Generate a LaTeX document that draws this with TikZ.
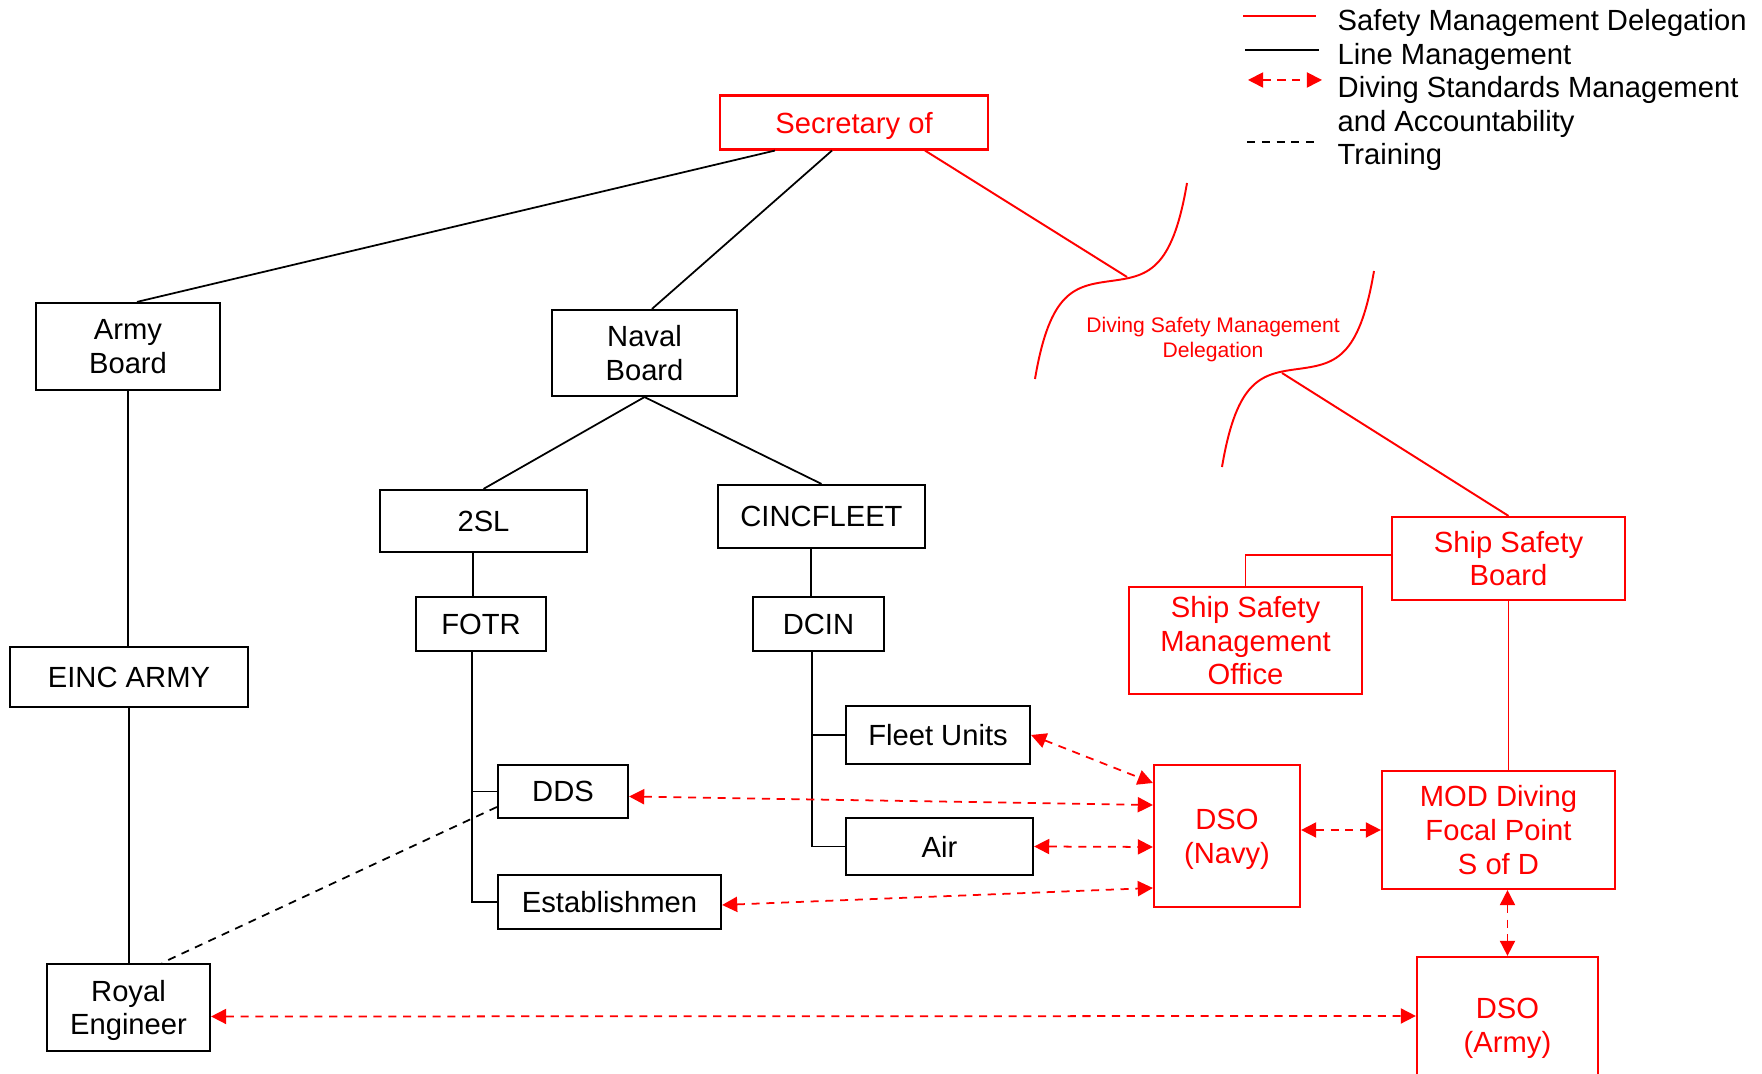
\documentclass[tikz,border=0pt]{standalone}
\usepackage{fontspec}
\setmainfont{Liberation Sans}
\usepackage{tikz}
\usetikzlibrary{arrows.meta,calc}
\tikzstyle{box}=[draw,line width=0.6pt,align=center,inner sep=0pt,text depth=0pt,font=\fontsize{8.3}{9.6}\selectfont]
\tikzstyle{redbox}=[box,draw=red,text=red]
\tikzstyle{linemgmt}=[draw,line width=0.5pt]
\tikzstyle{safety}=[draw=red,line width=0.55pt]
\tikzstyle{divestd}=[draw=red,line width=0.5pt,dash pattern=on 2.3pt off 1.9pt,{Triangle[length=4.3pt,width=4.3pt]}-{Triangle[length=4.3pt,width=4.3pt]}]
\tikzstyle{training}=[draw,line width=0.5pt,dash pattern=on 2.3pt off 1.9pt]
\tikzstyle{legend}=[anchor=base west,inner sep=0pt,font=\fontsize{8.3}{9.6}\selectfont]

\begin{document}
\begin{tikzpicture}[x=0.01cm,y=-0.01cm]
	\useasboundingbox (0,0) rectangle (1762,1074);
	\clip (0,0) rectangle (1762,1074);

	% Line management boxes
	\foreach \pos/\name/\bw/\bh/\txt in {{(128,346.5)/army/1.84/0.87/{Army\\Board}},
			{(644.5,353)/naval/1.85/0.86/{Naval\\Board}}, {(483.5,521)/sltwo/2.07/0.62/{2SL}},
			{(821.5,516.5)/cinc/2.07/0.63/{CINCFLEET}}, {(481,624)/fotr/1.30/0.54/{FOTR}},
			{(818.5,624)/dcin/1.31/0.54/{DCIN}}, {(129,677)/einc/2.38/0.60/{EINC ARMY}},
			{(938,735)/fleet/1.84/0.58/{Fleet Units}}, {(563,791.5)/dds/1.30/0.53/{DDS}},
			{(939.5,846.5)/air/1.87/0.57/{Air}}, {(609.5,902)/estab/2.23/0.54/{Establishmen}},
			{(128.5,1007.5)/royal/1.63/0.87/{Royal\\Engineer}}}
	\node[box,minimum width=\bw cm,minimum height=\bh cm] (\name) at \pos {\txt};

	% Safety boxes
	\foreach \pos/\name/\bw/\bh/\txt in {{(854,122.5)/sec/2.68/0.54/{Secretary of}},
			{(1508.5,558.5)/ssb/2.33/0.83/{Ship Safety\\Board}},
			{(1245.5,640.5)/ssmo/2.33/1.07/{Ship Safety\\Management\\Office}},
			{(1227,836)/dson/1.46/1.42/{DSO\\(Navy)}},
			{(1498.5,830)/mod/2.33/1.18/{MOD Diving\\Focal Point\\S of D}},
			{(1507.5,1025)/dsoa/1.81/1.36/{DSO\\(Army)}}}
	\node[redbox,minimum width=\bw cm,minimum height=\bh cm] (\name) at \pos {\txt};

	% Line management
	\path[linemgmt] ($(sec.south)+(-79,0)$) -- ($(army.north)+(9,0)$);
	\path[linemgmt] ($(sec.south)+(-22,0)$) -- ($(naval.north)+(7.5,0)$);
	\path[linemgmt] (army.south) -- (army.south |- einc.north);
	\path[linemgmt] (einc.south) -- (einc.south |- royal.north);
	\path[linemgmt] (naval.south) -- (sltwo.north);
	\path[linemgmt] (naval.south) -- (cinc.north);
	\path[linemgmt] ($(sltwo.south)+(-10.5,0)$) -- ($(fotr.north)+(-8,0)$);
	\path[linemgmt] ($(cinc.south)+(-10.5,0)$) -- ($(dcin.north)+(-7.5,0)$);
	\path[linemgmt] ($(fotr.south)+(-9,0)$) |- (dds.west);
	\path[linemgmt] ($(fotr.south)+(-9,0)$) |- (estab.west);
	\path[linemgmt] ($(dcin.south)+(-6.5,0)$) |- (fleet.west);
	\path[linemgmt] ($(dcin.south)+(-6.5,0)$) |- (air.west);

	% Training
	\path[training] ($(dds.west)+(0,15.5)$) -- ($(royal.north)+(33.5,0)$);

	% Safety management delegation
	\coordinate (cutone) at (1127,277);
	\coordinate (cuttwo) at (1282,373);
	\path[safety] (1035,379) .. controls (1050,290) and (1075,286) .. (1111,281)
		.. controls (1147,276) and (1172,272) .. (1187,183);
	\path[safety] (1222,467) .. controls (1237,378) and (1262,374) .. (1298,369)
		.. controls (1334,364) and (1359,360) .. (1374,271);
	\node[text=red,align=center,inner sep=0pt,font=\fontsize{6}{7.1}\selectfont] (dsmd) at (1213,340) {Diving Safety Management\\Delegation};
	\path[safety] ($(sec.south)+(71,0)$) -- (cutone);
	\path[safety] (cuttwo) -- (ssb.north);
	\path[safety] ($(ssb.west)+(0,-3.5)$) -| (ssmo.north);
	\path[safety] (ssb.south) -- (ssb.south |- mod.north);

	% Diving standards management and accountability
	\path[divestd] (fleet.east) -- ($(dson.west)+(0,-53)$);
	\path[divestd] ($(dds.east)+(0,5)$) -- ($(dson.west)+(0,-31)$);
	\path[divestd] (air.east) -- ($(dson.west)+(0,11)$);
	\path[divestd] ($(estab.east)+(0,3)$) -- ($(dson.west)+(0,52)$);
	\path[divestd] (mod.west -| dson.east) -- (mod.west);
	\path[divestd] (dsoa.north |- mod.south) -- (dsoa.north);
	\path[divestd] ($(royal.east)+(0,9)$) -- ($(dsoa.west)+(0,-9)$);

	% Legend
	\node[legend] (lgsafety) at (1337,31) {Safety Management Delegation};
	\node[legend] (lgline) at (1337,64.5) {Line Management};
	\node[legend] (lgdive) at (1337,98) {Diving Standards Management};
	\node[legend] (lgacc) at (1337,131.5) {and Accountability};
	\node[legend] (lgtrain) at (1337,165) {Training};
	\path[safety] (1243,16) -- (1316,16);
	\path[linemgmt] (1245,50) -- (1319,50);
	\path[divestd] (1248,80) -- (1322,80);
	\path[training] (1247,142) -- (1318,142);
\end{tikzpicture}
\end{document}
